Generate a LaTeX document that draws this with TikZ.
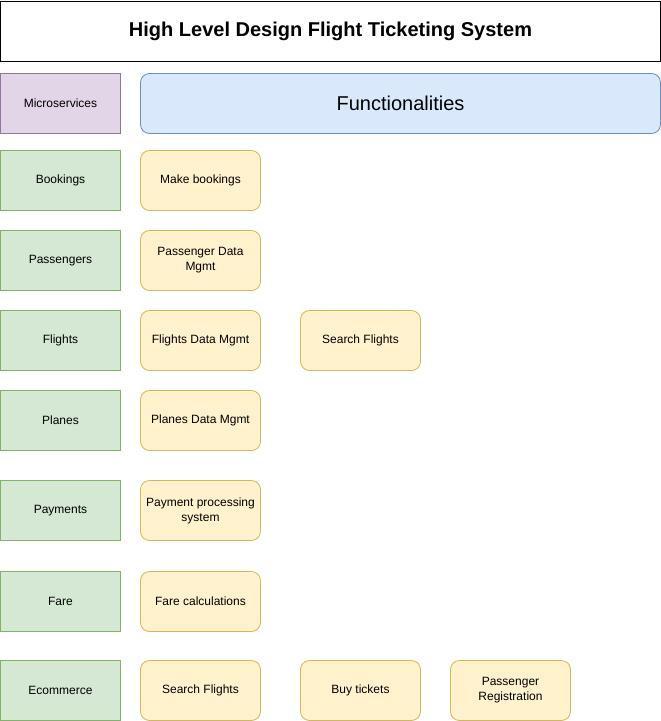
\documentclass[tikz,border=0pt]{standalone}
\usepackage{fontspec}
\setmainfont{Liberation Sans}
\usetikzlibrary{positioning}

\definecolor{svcfill}{HTML}{D5E8D4}
\definecolor{svcline}{HTML}{82B366}
\definecolor{funcfill}{HTML}{FFF2CC}
\definecolor{funcline}{HTML}{D6B656}
\definecolor{headfill}{HTML}{DAE8FC}
\definecolor{headline}{HTML}{6C8EBF}
\definecolor{msfill}{HTML}{E1D5E7}
\definecolor{msline}{HTML}{9673A6}

\tikzset{
  service/.style={draw=svcline,fill=svcfill,minimum width=120pt,minimum height=60pt,inner sep=2pt,outer sep=0pt,font=\fontsize{12pt}{15pt}\selectfont},
  func/.style={draw=funcline,fill=funcfill,rounded corners=9pt,minimum width=120pt,minimum height=60pt,align=center,inner sep=2pt,outer sep=0pt,font=\fontsize{12pt}{15pt}\selectfont}
}

\begin{document}
\begin{tikzpicture}[x=1pt,y=-1pt,line width=0.8pt]
  \useasboundingbox (0,0) rectangle (661,721);
  \node[draw=black,minimum width=660pt,minimum height=60pt,outer sep=0pt,font=\fontsize{20pt}{24pt}\selectfont\bfseries] (Title) at (330.5,31) {High Level Design Flight Ticketing System};

  \node[service,draw=msline,fill=msfill] (Micro) at (60.5,103.5) {Microservices};
  \node[draw=headline,fill=headfill,rounded corners=9pt,minimum width=520pt,minimum height=60pt,outer sep=0pt,font=\fontsize{20pt}{24pt}\selectfont] (Func) at (400.5,103.5) {Functionalities};

  \node[service] (Bookings)   at (60.5,180.5) {Bookings};
  \node[service] (Passengers) at (60.5,260.5) {Passengers};
  \node[service] (Flights)    at (60.5,340.5) {Flights};
  \node[service] (Planes)     at (60.5,420.5) {Planes};
  \node[service] (Payments)   at (60.5,510.5) {Payments};
  \node[service] (Fare)       at (60.5,601.5) {Fare};
  \node[service] (Ecommerce)  at (60.5,690.5) {Ecommerce};

  \node[func] (MakeBookings)  at (200.5,180.5) {Make bookings};
  \node[func] (PassengerData) at (200.5,260.5) {Passenger Data\\Mgmt};
  \node[func] (FlightsData)   at (200.5,340.5) {Flights Data Mgmt};
  \node[func] (SearchFlightsA) at (360.5,340.5) {Search Flights};
  \node[func] (PlanesData)    at (200.5,420.5) {Planes Data Mgmt};
  \node[func] (PaymentProc)   at (200.5,510.5) {Payment processing\\system};
  \node[func] (FareCalc)      at (200.5,601.5) {Fare calculations};
  \node[func] (SearchFlightsB) at (200.5,690.5) {Search Flights};
  \node[func] (BuyTickets)    at (360.5,690.5) {Buy tickets};
  \node[func] (PassengerReg)  at (510.5,690.5) {Passenger\\Registration};
\end{tikzpicture}
\end{document}
